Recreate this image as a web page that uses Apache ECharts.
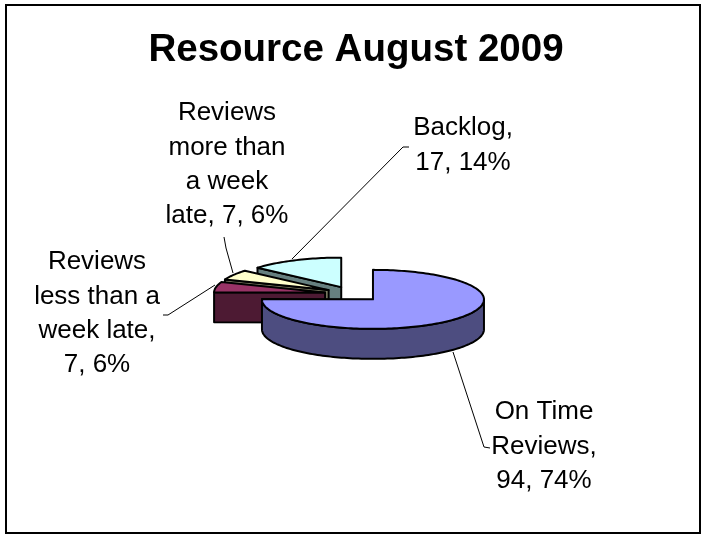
<!DOCTYPE html>
<html>
<head>
<meta charset="utf-8">
<style>html,body{margin:0;padding:0;background:#fff}#c{width:704px;height:534px}</style>
<script src="https://cdn.jsdelivr.net/npm/echarts@6/dist/echarts.min.js"></script>
</head>
<body>
<div id="c"></div>
<script>
const chartTitle = 'Resource August 2009';
const categories = ['On Time Reviews', 'Reviews less than a week late', 'Reviews more than a week late', 'Backlog'];
const values = [94, 7, 7, 17];
const labelLines = [
  ['On Time', 'Reviews,', '94, 74%'],
  ['Reviews', 'less than a', 'week late,', '7, 6%'],
  ['Reviews', 'more than', 'a week', 'late, 7, 6%'],
  ['Backlog,', '17, 14%']
];
const topColors = ['#9999FF', '#993366', '#FFFFCC', '#CCFFFF'];
const sideColors = ['#4D4D80', '#4D1A33', '#808066', '#668080'];

// presentation layout
const pie = { cx: 353, cy: 294, rx: 111, ry: 29.5, depth: 30, explode: 0.256 };
const labelCenters = [[544, 412], [97, 262], [227, 113], [463, 128]];
const lineStep = 34.4;
const leaders = [
  [[453, 352], [484, 447], [490, 448]],
  [[215, 285], [168, 315], [163, 315]],
  [[233, 273], [226, 248], [224, 237]],
  [[292, 259], [403, 147], [409, 147]]
];

const total = values.reduce((a, b) => a + b, 0);
const starts = [];
values.reduce((acc, v, i) => { starts[i] = acc; return acc + v; }, 0);
const toTheta = v => v / total * Math.PI * 2;
const drawOrder = categories.map((_, i) => categories.length - 1 - i);
const STROKE = { stroke: '#000', lineWidth: 2, lineJoin: 'round' };

function renderSlice(params) {
  const i = drawOrder[params.dataIndex];
  const a0 = toTheta(starts[i]);
  const a1 = toTheta(starts[i] + values[i]);
  const mid = (a0 + a1) / 2;
  const ax = pie.cx + Math.sin(mid) * pie.explode * pie.rx;
  const ay = pie.cy - Math.cos(mid) * pie.explode * pie.ry;
  const rim = t => [ax + Math.sin(t) * pie.rx, ay - Math.cos(t) * pie.ry];
  const down = p => [p[0], p[1] + pie.depth];
  const arc = (from, to) => {
    const n = Math.max(2, Math.ceil((to - from) / (Math.PI / 120)));
    const pts = [];
    for (let k = 0; k <= n; k++) pts.push(rim(from + (to - from) * k / n));
    return pts;
  };
  const apex = [ax, ay];
  const children = [];
  const poly = (points, fill) => children.push({
    type: 'polygon', shape: { points }, style: Object.assign({ fill }, STROKE)
  });
  // radial cut faces, only when turned towards the viewer
  if (Math.sin(a0) < -1e-6) {
    const p = rim(a0);
    poly([apex, p, down(p), down(apex)], sideColors[i]);
  }
  if (Math.sin(a1) > 1e-6) {
    const p = rim(a1);
    poly([apex, p, down(p), down(apex)], sideColors[i]);
  }
  // outer wall on the front half
  const w0 = Math.max(a0, Math.PI / 2);
  const w1 = Math.min(a1, Math.PI * 1.5);
  if (w1 > w0) {
    const top = arc(w0, w1);
    poly(top.concat(top.slice().reverse().map(down)), sideColors[i]);
  }
  // top surface
  poly([apex].concat(arc(a0, a1)), topColors[i]);
  return { type: 'group', children };
}

function renderLabels(params) {
  const i = params.dataIndex;
  const children = [{
    type: 'polyline',
    shape: { points: leaders[i] },
    style: { fill: 'none', stroke: '#000', lineWidth: 1 }
  }];
  labelLines[i].forEach((t, k) => children.push({
    type: 'text',
    style: {
      text: t,
      x: labelCenters[i][0],
      y: labelCenters[i][1] + k * lineStep,
      align: 'center',
      verticalAlign: 'middle',
      fill: '#000',
      font: '26px "Liberation Sans", Arial, sans-serif'
    }
  }));
  return { type: 'group', children };
}

const chart = echarts.init(document.getElementById('c'), null, { renderer: 'canvas' });
chart.setOption({
  animation: false,
  backgroundColor: '#fff',
  title: {
    text: chartTitle,
    left: 351,
    top: 26,
    textAlign: 'center',
    textStyle: { fontFamily: '"Liberation Sans", Arial, sans-serif', fontWeight: 'bold', fontSize: 38.5, color: '#000' }
  },
  graphic: [{
    type: 'rect',
    shape: { x: 6, y: 5, width: 694, height: 528 },
    style: { fill: 'none', stroke: '#000', lineWidth: 2 },
    silent: true
  }],
  series: [
    {
      type: 'custom',
      coordinateSystem: 'none',
      renderItem: renderLabels,
      data: categories.map((name, i) => ({ name, value: values[i] })),
      silent: true,
      z: 1
    },
    {
      type: 'custom',
      coordinateSystem: 'none',
      renderItem: renderSlice,
      data: drawOrder.map(i => ({ name: categories[i], value: values[i] })),
      silent: true,
      z: 2
    }
  ]
});
</script>
</body>
</html>
